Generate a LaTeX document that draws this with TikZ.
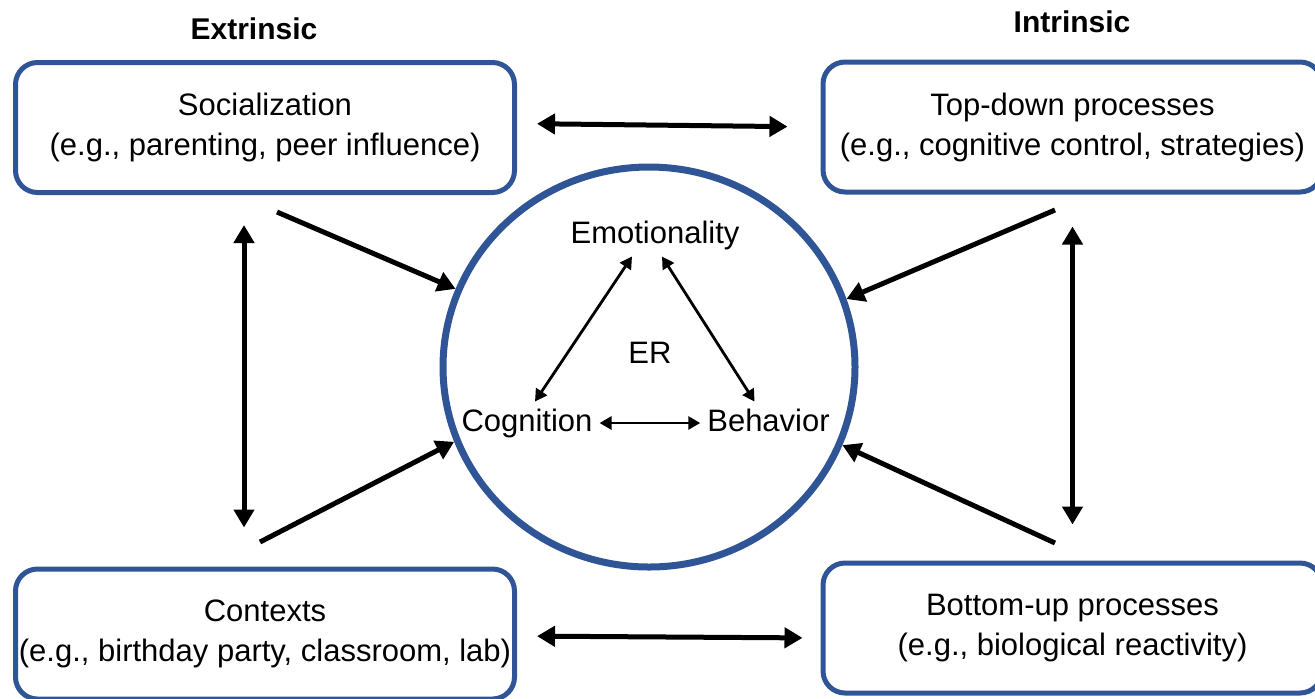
\documentclass[tikz,border=0pt]{standalone}
\usepackage{fontspec}
\setmainfont{Liberation Sans}
\usetikzlibrary{arrows.meta,shapes.geometric}
\definecolor{frameblue}{HTML}{2F5597}

\begin{document}
\begin{tikzpicture}[
  x=0.5pt,y=-0.5pt,
  every node/.style={font=\fontsize{15.5}{20}\selectfont, align=center},
  factor/.style={
    draw=frameblue,
    line width=2.5pt,
    rounded corners=11pt,
    minimum width=249.5pt,
    minimum height=65pt,
    inner sep=0pt
  },
  heading/.style={font=\fontsize{15}{20}\selectfont\bfseries},
  bigarrow/.style={line width=2.5pt, {Triangle[length=9pt,width=10pt]}-{Triangle[length=9pt,width=10pt]}},
  onearrow/.style={line width=2.5pt, -{Triangle[length=9pt,width=10pt]}},
  smallarrow/.style={line width=1.4pt, {Triangle[length=6pt,width=6.5pt]}-{Triangle[length=6pt,width=6.5pt]}}
]
\useasboundingbox (0,0) rectangle (1315,698);
\clip (0,0) rectangle (1315,698);

\node[heading] (extr) at (254,29) {Extrinsic};
\node[heading] (intr) at (1072,22) {Intrinsic};

\node[factor] (soc)  at (265,127.5)  {Socialization\\(e.g., parenting, peer influence)};
\node[factor] (top)  at (1072.5,127) {Top-down processes\\(e.g., cognitive control, strategies)};
\node[factor] (cont) at (265,634)    {Contexts\\(e.g., birthday party, classroom, lab)};
\node[factor] (bot)  at (1072.5,628) {Bottom-up processes\\(e.g., biological reactivity)};

\node[ellipse, draw=frameblue, line width=3.5pt, minimum width=206pt, minimum height=200pt, inner sep=0pt] (er) at (649,367) {};
\node (erlabel) at (650,352.5) {ER};
\node (emo) at (655,235) {Emotionality};
\node (cog) at (527,423) {Cognition};
\node (beh) at (768.5,420) {Behavior};

\draw[smallarrow] ([xshift=-11.5pt]emo.south) -- ([xshift=4pt]cog.north);
\draw[smallarrow] ([xshift=3.5pt]emo.south) -- ([xshift=-7pt]beh.north);
\draw[smallarrow] (cog.east) -- (cog.east -| beh.west);

\draw[bigarrow, shorten <=10pt, shorten >=16.5pt] ([yshift=2pt]soc.east) -- (top.west);
\draw[bigarrow, shorten <=10pt, shorten >=9pt] ([yshift=-1pt]cont.east) -- ([yshift=-5pt]bot.west);
\draw[bigarrow, shorten <=15pt, shorten >=19.5pt] ([xshift=-10.5pt]soc.south) -- ([xshift=-10.5pt]cont.north);
\draw[bigarrow, shorten <=16pt, shorten >=18pt] (top.south) -- (bot.north);

\coordinate (socout) at (277,212);
\coordinate (contout) at (260,542);
\coordinate (topout) at (1055,210);
\coordinate (botout) at (1055,543);
\draw[onearrow] (socout) -- (er.158.6);
\draw[onearrow] (contout) -- (er.201.7);
\draw[onearrow] (topout) -- (er.19.1);
\draw[onearrow] (botout) -- (er.-22.9);
\end{tikzpicture}
\end{document}
